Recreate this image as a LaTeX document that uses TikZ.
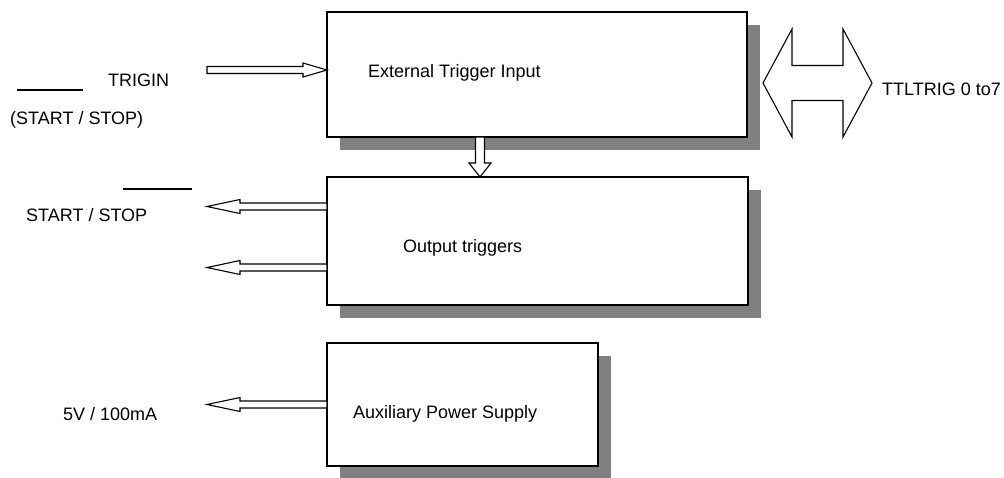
\documentclass[tikz,border=0pt]{standalone}
\usepackage{fontspec}
\setmainfont{Liberation Sans}
\usetikzlibrary{calc,shadows}

\tikzset{
  block/.style={draw, line width=1.5pt, fill=white, inner sep=0pt, outer sep=0pt,
    drop shadow={shadow xshift=13pt, shadow yshift=-13pt, fill=gray, opacity=1}},
  lbl/.style={anchor=west, inner sep=0pt, font=\fontsize{18}{21}\selectfont},
  hollow/.style={draw, line width=1.1pt, fill=white, line join=miter},
  bar/.style={line width=1.3pt},
}

% horizontal hollow arrow: tail, tip, x offset of the head base
\newcommand\harrow[3]{%
  \draw[hollow] ($(#1)+(0,-3.5)$) -- ($(#2)+(#3,-3.5)$) -- ($(#2)+(#3,-7)$) -- (#2)
    -- ($(#2)+(#3,7)$) -- ($(#2)+(#3,3.5)$) -- ($(#1)+(0,3.5)$) -- cycle;}

\begin{document}
\begin{tikzpicture}[x=1pt,y=-1pt]
\useasboundingbox (0,0) rectangle (1004,477);

% blocks
\node[block, minimum width=420pt, minimum height=125pt] (ext) at (537,74.5) {};
\node[block, minimum width=421pt, minimum height=128pt] (out) at (537.5,241) {};
\node[block, minimum width=271pt, minimum height=123pt] (aux) at (462.5,404.5) {};

\node[lbl] (exttxt) at (368,73) {External Trigger Input};
\node[lbl] (outtxt) at (403,248) {Output triggers};
\node[lbl] (auxtxt) at (353,414) {Auxiliary Power Supply};

% signals
\node[lbl] (trigin) at (108,80) {TRIGIN};
\node[lbl] (trigss) at (10,120) {(START / STOP)};
\draw[bar] (17,90) -- (83,90);
\node[lbl] (ssout) at (26,215) {START / STOP};
\draw[bar] (123,189) -- (192,189);
\node[lbl] (pwrtxt) at (63,414) {5V / 100mA};
\node[lbl] (ttl) at (882,89) {TTLTRIG 0 to7};

\coordinate (trigend) at (207,70);
\coordinate (ss1) at (207,206.5);
\coordinate (ss2) at (207,267.5);
\coordinate (pwr) at (207,404.5);
\coordinate (dn) at (480,0);
\coordinate (busL) at (763,83);
\coordinate (busR) at (872,83);

\harrow{trigend}{ext.west |- trigend}{-24}
\harrow{out.west |- ss1}{ss1}{33}
\harrow{out.west |- ss2}{ss2}{33}
\harrow{aux.west |- pwr}{pwr}{33}

% ext -> out
\draw[hollow] ($(ext.south -| dn)+(-4.5,0)$) -- ($(out.north -| dn)+(-4.5,-14)$)
  -- ($(out.north -| dn)+(-11,-14)$) -- (out.north -| dn) -- ($(out.north -| dn)+(11,-14)$)
  -- ($(out.north -| dn)+(4.5,-14)$) -- ($(ext.south -| dn)+(4.5,0)$) -- cycle;

% trigger bus
\draw[hollow] (busL) -- ($(busL)+(29,-54)$) -- ($(busL)+(29,-17.5)$) -- ($(busR)+(-29,-17.5)$)
  -- ($(busR)+(-29,-54)$) -- (busR) -- ($(busR)+(-29,54)$) -- ($(busR)+(-29,17.5)$)
  -- ($(busL)+(29,17.5)$) -- ($(busL)+(29,54)$) -- cycle;
\end{tikzpicture}
\end{document}
